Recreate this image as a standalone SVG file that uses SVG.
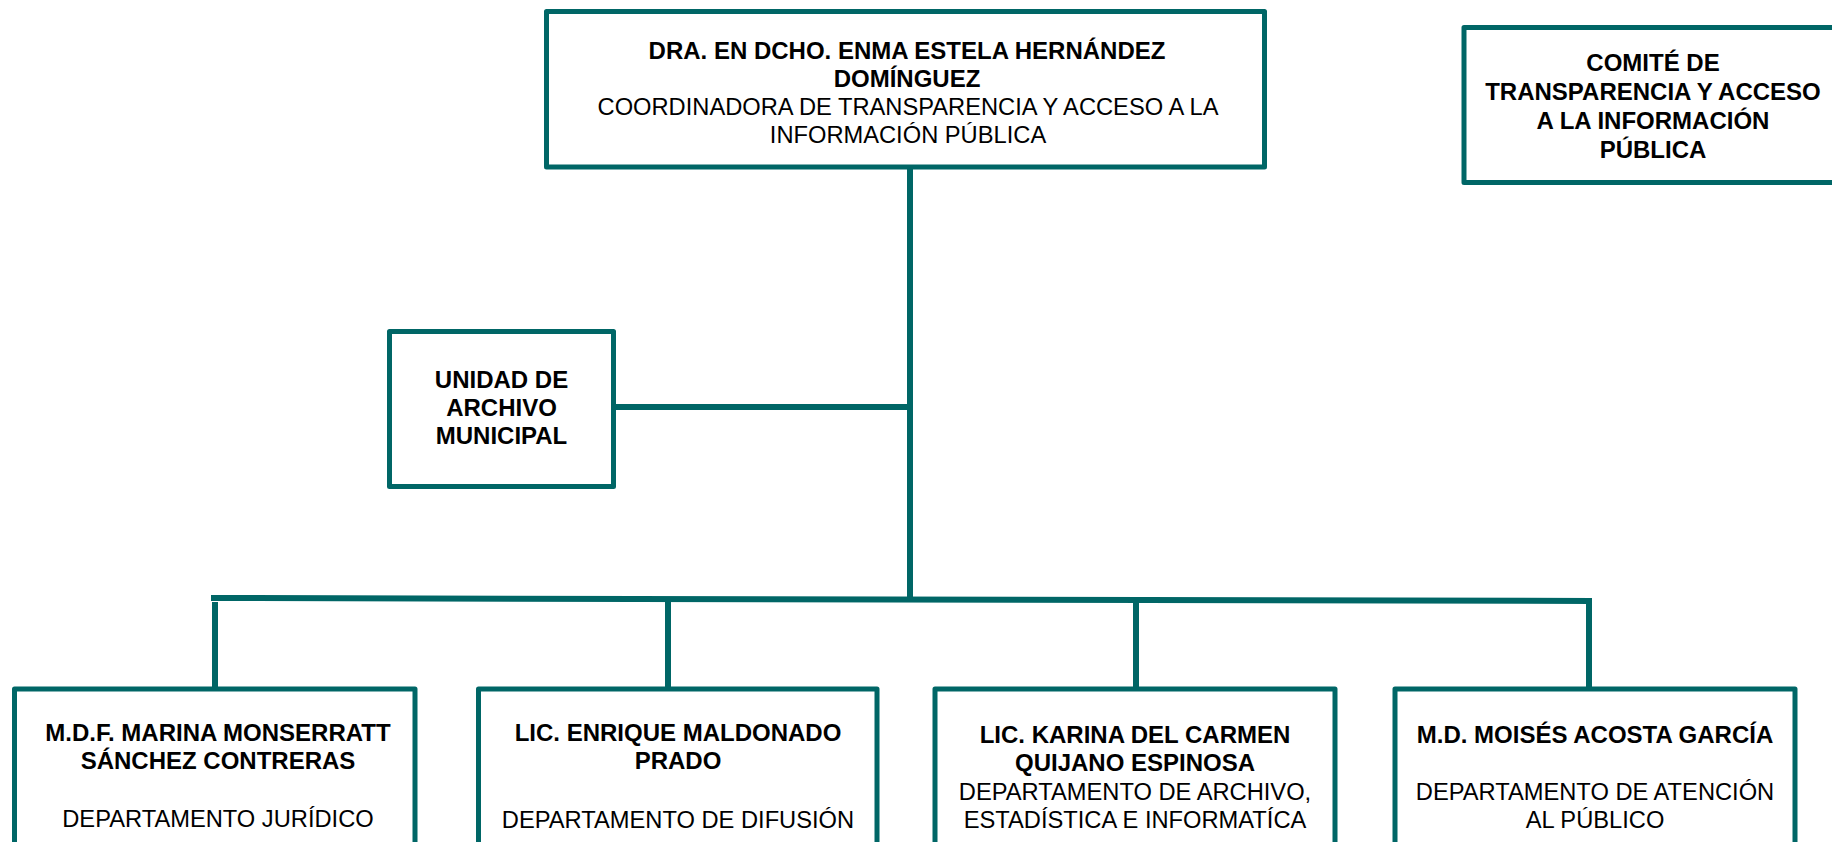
<svg xmlns="http://www.w3.org/2000/svg" width="1832" height="842" viewBox="0 0 1832 842">
<style>
.box{fill:#ffffff;stroke:#006666;stroke-width:5;stroke-linejoin:round}
.ln{fill:none;stroke:#006666;stroke-width:6}
text{font-family:"Liberation Sans",Arial,sans-serif;fill:#000000;text-anchor:middle}
.b{font-weight:bold;font-size:24px}
.r{font-size:23.7px}
</style>
<rect width="1832" height="842" fill="#ffffff"/>
<g id="connectors">
<line class="ln" x1="910" y1="167" x2="910" y2="598"/>
<line class="ln" x1="613" y1="407" x2="910" y2="407"/>
<line class="ln" x1="211" y1="598" x2="1592" y2="601"/>
<line class="ln" x1="215" y1="602" x2="215" y2="689"/>
<line class="ln" x1="668" y1="599" x2="668" y2="689"/>
<line class="ln" x1="1136" y1="600" x2="1136" y2="689"/>
<line class="ln" x1="1589" y1="598" x2="1589" y2="689"/>
</g>
<g id="coordinadora">
<rect class="box" x="546.5" y="11.5" width="718" height="155.5"/>
<text class="b" x="907" y="59">DRA. EN DCHO. ENMA ESTELA HERNÁNDEZ</text>
<text class="b" x="907" y="87">DOMÍNGUEZ</text>
<text class="r" x="908" y="115">COORDINADORA DE TRANSPARENCIA Y ACCESO A LA</text>
<text class="r" x="908" y="143">INFORMACIÓN PÚBLICA</text>
</g>
<g id="comite">
<rect class="box" x="1464" y="27.5" width="380" height="155"/>
<text class="b" x="1653" y="71">COMITÉ DE</text>
<text class="b" x="1653" y="100">TRANSPARENCIA Y ACCESO</text>
<text class="b" x="1653" y="129">A LA INFORMACIÓN</text>
<text class="b" x="1653" y="158">PÚBLICA</text>
</g>
<g id="unidad">
<rect class="box" x="389.5" y="331.5" width="224" height="155"/>
<text class="b" x="501.5" y="388">UNIDAD DE</text>
<text class="b" x="501.5" y="416">ARCHIVO</text>
<text class="b" x="501.5" y="444">MUNICIPAL</text>
</g>
<g id="juridico">
<rect class="box" x="14.5" y="689" width="400.5" height="170"/>
<text class="b" x="218" y="741">M.D.F. MARINA MONSERRATT</text>
<text class="b" x="218" y="769">SÁNCHEZ CONTRERAS</text>
<text class="r" x="218" y="827">DEPARTAMENTO JURÍDICO</text>
</g>
<g id="difusion">
<rect class="box" x="478.5" y="689" width="398.5" height="170"/>
<text class="b" x="678" y="741">LIC. ENRIQUE MALDONADO</text>
<text class="b" x="678" y="769">PRADO</text>
<text class="r" x="678" y="828">DEPARTAMENTO DE DIFUSIÓN</text>
</g>
<g id="archivo">
<rect class="box" x="935" y="689" width="400" height="170"/>
<text class="b" x="1135" y="743">LIC. KARINA DEL CARMEN</text>
<text class="b" x="1135" y="771">QUIJANO ESPINOSA</text>
<text class="r" x="1135" y="800">DEPARTAMENTO DE ARCHIVO,</text>
<text class="r" x="1135" y="828">ESTADÍSTICA E INFORMATÍCA</text>
</g>
<g id="atencion">
<rect class="box" x="1395" y="689" width="400" height="170"/>
<text class="b" x="1595" y="743">M.D. MOISÉS ACOSTA GARCÍA</text>
<text class="r" x="1595" y="800">DEPARTAMENTO DE ATENCIÓN</text>
<text class="r" x="1595" y="828">AL PÚBLICO</text>
</g>
</svg>
